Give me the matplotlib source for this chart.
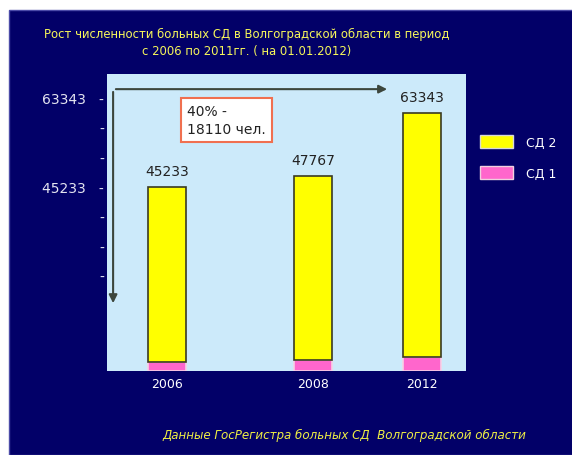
import numpy as np
import matplotlib
matplotlib.use('Agg')
import matplotlib.pyplot as plt
from matplotlib.patches import Rectangle, Patch

# Число больных СД по годам (на начало следующего года)
years = ['2006', '2008', '2012']
totals = np.array([45233, 47767, 63343])
sd1 = np.array([2300, 2700, 3400])
sd2 = totals - sd1

ytick_labels = ['45233', '63343']
note_text = '40% -\n18110 чел.'
title_text = ('Рост численности больных СД в Волгоградской области в период\n'
              'с 2006 по 2011гг. ( на 01.01.2012)')
source_text = 'Данные ГосРегистра больных СД  Волгоградской области'

NAVY = '#020068'
PLOT_BG = '#CCEAFA'
YELLOW = '#FFFF00'
PINK = '#FF66CC'
TITLE_YELLOW = '#F6F65A'

W, H = 572, 456
fig = plt.figure(figsize=(W / 100, H / 100), dpi=100)
fig.patch.set_facecolor('white')

# dark slide background
fig.patches.append(Rectangle((9 / W, 0), 1, 1 - 11 / H, transform=fig.transFigure,
                             facecolor=NAVY, edgecolor='#4b4ba8', lw=1, zorder=-10))

ax = fig.add_axes([107 / W, 1 - 372 / H, 359 / W, 297 / H])
ax.set_facecolor(PLOT_BG)
for s in ax.spines.values():
    s.set_visible(False)

xpos = np.array([0, 1, 1.75])
width = 0.26

ax.bar(xpos, sd1, width, color=PINK, edgecolor='#F6D2E6', lw=1.2, zorder=3)
ax.bar(xpos, sd2, width, bottom=sd1, color=YELLOW, edgecolor='#3a3a22', lw=1.2, zorder=3)

for x, v in zip(xpos, totals):
    ax.annotate(str(v), (x, v), xytext=(0, 12), textcoords='offset pixels',
                ha='center', va='baseline', fontsize=10, color='#222222')

ax.set_xlim(-0.41, 2.05)
ax.set_ylim(0, 72900)

# ticks every ~30 px, labelled at the two levels
step = 7263
tick_vals = 45233 + step * np.arange(-3, 4)
tick_text = ['-'] * 7
tick_text[3] = ytick_labels[0] + '   -'
tick_text[6] = ytick_labels[1] + '   -'
ax.set_yticks(tick_vals, tick_text)
ax.tick_params(axis='y', length=0, pad=2, colors='#E4E4F0', labelsize=10)

ax.set_xticks(xpos, years)
ax.tick_params(axis='x', length=0, pad=4, colors='white', labelsize=9)

# growth arrows
arrow_kw = dict(arrowstyle='-|>', color='#3c463c', lw=1.5, mutation_scale=12)
ax.annotate('', xy=(0.788, 0.949), xytext=(0.017, 0.949),
            xycoords='axes fraction', arrowprops=arrow_kw)
ax.annotate('', xy=(0.017, 0.219), xytext=(0.017, 0.949),
            xycoords='axes fraction', arrowprops=arrow_kw)

ax.text(0.223, 0.845, note_text, transform=ax.transAxes, ha='left', va='center',
        fontsize=10, color='#222222', linespacing=1.3, zorder=5,
        bbox=dict(boxstyle='square,pad=0.45', fc='white', ec='#F07050', lw=1.5))

fig.legend(handles=[Patch(fc=YELLOW, ec='#D8D8D8', label='СД 2'),
                    Patch(fc=PINK, ec='#F0D0E0', label='СД 1')],
           loc='upper left', bbox_to_anchor=(480 / W, 1 - 136 / H), frameon=False,
           fontsize=9, labelcolor='white', handlelength=2.6, handleheight=1.25,
           handletextpad=1.1, labelspacing=1.35, borderpad=0, borderaxespad=0)

fig.text(247 / W, 1 - 43 / H, title_text, ha='center', va='center',
         color=TITLE_YELLOW, fontsize=8.4, linespacing=1.45)
fig.text(344 / W, 1 - 435 / H, source_text, ha='center', va='center',
         color='#EEEE44', fontsize=8.6, style='italic')

fig.savefig('out.png', dpi=100)
